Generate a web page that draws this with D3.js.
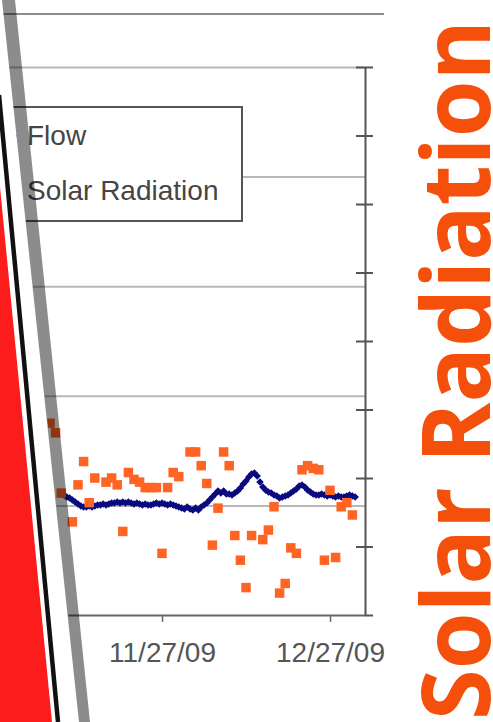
<!DOCTYPE html>
<html>
<head>
<meta charset="utf-8">
<script src="https://cdn.jsdelivr.net/npm/d3@7"></script>
<style>
  html, body { margin: 0; padding: 0; background: #fff; overflow: hidden; }
  #chart { width: 493px; height: 722px; }
</style>
</head>
<body>
<div id="chart"></div>
<script>
// Flow: one reading every 12 hours starting 11/9/09
const flowStart = Date.UTC(2009, 10, 9);
const flowValues = [
  55.2, 54.7, 53.8, 53.4, 52.5, 51.6, 50.6, 49.7, 49.3, 49.3,
  49.7, 49.3, 49.7, 50.2, 50.2, 50.6, 50.2, 50.6, 51.1, 51.1,
  51.6, 51.1, 51.6, 51.1, 51.6, 51.1, 50.6, 51.1, 50.6, 50.2,
  50.6, 50.2, 50.2, 50.6, 51.1, 50.6, 51.1, 50.6, 50.2, 50.6,
  50.2, 49.7, 49.3, 48.8, 48.4, 49.3, 48.4, 47.9, 48.8, 47.9,
  49.3, 50.2, 51.1, 52.5, 53.8, 55.2, 56.6, 55.7, 56.6, 55.2,
  55.2, 54.7, 55.7, 56.6, 57.9, 59.8, 61.1, 63.0, 64.3, 64.8,
  63.4, 60.7, 58.4, 57.0, 56.1, 55.7, 54.7, 54.3, 53.4, 53.8,
  54.3, 54.7, 55.7, 56.6, 57.5, 58.9, 59.3, 58.4, 57.0, 56.1,
  55.2, 54.7, 54.7, 55.2, 54.7, 54.3, 54.7, 54.3, 53.8, 54.3,
  53.8, 53.8, 54.3, 54.7, 54.3, 53.8
];

// Solar radiation: daily values
const solarDates = [
  "2009-11-07", "2009-11-08", "2009-11-09", "2009-11-11", "2009-11-12",
  "2009-11-13", "2009-11-14", "2009-11-15", "2009-11-17", "2009-11-18",
  "2009-11-19", "2009-11-20", "2009-11-21", "2009-11-22", "2009-11-23",
  "2009-11-24", "2009-11-25", "2009-11-26", "2009-11-27", "2009-11-28",
  "2009-11-29", "2009-11-30", "2009-12-02", "2009-12-03", "2009-12-04",
  "2009-12-05", "2009-12-06", "2009-12-07", "2009-12-08", "2009-12-09",
  "2009-12-10", "2009-12-11", "2009-12-12", "2009-12-13", "2009-12-15",
  "2009-12-16", "2009-12-17", "2009-12-18", "2009-12-19", "2009-12-20",
  "2009-12-21", "2009-12-22", "2009-12-23", "2009-12-24", "2009-12-25",
  "2009-12-26", "2009-12-27", "2009-12-28", "2009-12-29", "2009-12-30",
  "2009-12-31"
];
const solarValues = [
  140, 133, 89, 68, 95,
  112, 82, 100, 97, 100,
  95, 61, 104, 99, 97,
  93, 93, 93, 45, 93,
  104, 101, 119, 119, 109,
  96, 51, 78, 119, 109,
  58, 40, 20, 58, 55,
  62, 79, 16, 23, 49,
  45, 106, 109, 107, 106,
  40, 91, 42, 79, 82,
  73
];

const flowTicks = [0, 50, 100, 150, 200, 250];
const solarTicks = [0, 50, 100, 150, 200, 250, 300, 350, 400];
const xTickDates = ["2009-11-27", "2009-12-27"];
const legendLabels = ["Flow", "Solar Radiation"];
const titleText = "Solar Radiation";

const width = 493;
const height = 722;
const plot = { left: 50, right: 365, top: 67, bottom: 615 };

const parseDate = d3.utcParse("%Y-%m-%d");

const flowData = flowValues.map((v, i) => ({ date: new Date(flowStart + i * 12 * 3600 * 1000), value: v }));
const solarData = solarDates.map((d, i) => ({ date: parseDate(d), value: solarValues[i] }));

const xScale = d3.scaleUtc()
    .domain([new Date(Date.UTC(2009, 10, 7)), new Date(Date.UTC(2010, 0, 2, 6))])
    .range([plot.left, plot.right]);

const yFlow = d3.scaleLinear().domain([0, 250]).range([plot.bottom, plot.top]);
const ySolar = d3.scaleLinear().domain([0, 400]).range([plot.bottom, plot.top]);

const svg = d3.select('#chart')
    .append('svg')
    .attr('width', width)
    .attr('height', height)
    .style('font-family', "'Liberation Sans', Arial, sans-serif");

// rule at the very top of the slide
svg.append('line')
    .attr('x1', 0).attr('x2', 384)
    .attr('y1', 14).attr('y2', 14)
    .attr('stroke', '#8c8c8c')
    .attr('stroke-width', 2);

// gridlines (flow axis)
const grid = svg.append('g')
    .attr('transform', `translate(${plot.right}, 0)`)
    .call(d3.axisLeft(yFlow).tickValues(flowTicks.slice(1)).tickSize(plot.right).tickFormat(''));
grid.select('.domain').remove();
grid.selectAll('line').attr('stroke', '#b8b8b8').attr('stroke-width', 2);

// x axis
const xAxis = svg.append('g')
    .attr('transform', `translate(0, ${plot.bottom})`)
    .call(d3.axisBottom(xScale)
        .tickValues(xTickDates.map(parseDate))
        .tickSizeInner(7)
        .tickSizeOuter(0)
        .tickPadding(20)
        .tickFormat(d3.utcFormat('%m/%d/%y')));
xAxis.select('.domain').attr('stroke', '#666').attr('stroke-width', 2);
xAxis.selectAll('line').attr('stroke', '#666').attr('stroke-width', 1.5);
xAxis.selectAll('text')
    .attr('fill', '#555')
    .style('font-size', '28px')
    .style('font-family', "'Liberation Sans', Arial, sans-serif");

// right axis (solar radiation), ticks cross the line
const yRight = svg.append('g')
    .attr('transform', `translate(${plot.right}, 0)`)
    .call(d3.axisRight(ySolar).tickValues(solarTicks).tickSize(8).tickSizeOuter(0).tickFormat(''));
yRight.select('.domain').attr('stroke', '#555').attr('stroke-width', 2);
yRight.selectAll('line').attr('stroke', '#555').attr('stroke-width', 2);

const yRightIn = svg.append('g')
    .attr('transform', `translate(${plot.right}, 0)`)
    .call(d3.axisLeft(ySolar).tickValues(solarTicks.slice(1)).tickSize(9).tickFormat(''));
yRightIn.select('.domain').remove();
yRightIn.selectAll('line').attr('stroke', '#555').attr('stroke-width', 2);

// flow markers
svg.append('g')
    .selectAll('path')
    .data(flowData)
    .enter()
    .append('path')
    .attr('d', d3.symbol().type(d3.symbolDiamond2).size(36))
    .attr('transform', d => `translate(${xScale(d.date)}, ${yFlow(d.value)})`)
    .attr('fill', '#0a0a80');

// solar radiation markers
const sq = 9.5;
svg.append('g')
    .selectAll('rect')
    .data(solarData)
    .enter()
    .append('rect')
    .attr('x', d => xScale(d.date) - sq / 2)
    .attr('y', d => ySolar(d.value) - sq / 2)
    .attr('width', sq)
    .attr('height', sq)
    .attr('fill', '#ff6424');

// legend
const legend = svg.append('g').attr('id', 'legend');
legend.append('rect')
    .attr('x', 8).attr('y', 107)
    .attr('width', 234).attr('height', 114)
    .attr('fill', '#fff')
    .attr('stroke', '#555')
    .attr('stroke-width', 2);
legend.append('path')
    .attr('d', d3.symbol().type(d3.symbolDiamond2).size(12))
    .attr('transform', 'translate(15, 136)')
    .attr('fill', '#0a0a80');
legend.append('rect')
    .attr('x', 11).attr('y', 186).attr('width', sq).attr('height', sq)
    .attr('fill', '#ff6424');
legend.selectAll('text')
    .data(legendLabels)
    .enter()
    .append('text')
    .attr('x', 27)
    .attr('y', (d, i) => 145 + i * 55)
    .attr('fill', '#454545')
    .style('font-size', '28px')
    .text(d => d);

// slide decoration on the left: white panel, red wedge, black line, grey band
svg.append('polygon')
    .attr('points', '0,0 2,0 80,722 0,722')
    .attr('fill', '#fff');
svg.append('polygon')
    .attr('points', '0,187 52,722 0,722')
    .attr('fill', '#fb1c1c');
svg.append('line')
    .attr('x1', -1).attr('y1', 95)
    .attr('x2', 58).attr('y2', 722)
    .attr('stroke', '#111')
    .attr('stroke-width', 4.5);
svg.append('polygon')
    .attr('points', '2,0 15,0 90,722 79,722')
    .attr('fill', 'rgba(0,0,0,0.45)');

// big title
svg.append('text')
    .attr('transform', 'translate(490, 720) rotate(-90)')
    .attr('x', 0)
    .attr('y', 0)
    .attr('textLength', 700)
    .attr('lengthAdjust', 'spacingAndGlyphs')
    .attr('fill', '#f4500c')
    .style('font-family', "'Open Sans', 'Noto Sans', sans-serif")
    .style('font-weight', 700)
    .style('font-size', '95px')
    .text(titleText);
</script>
</body>
</html>
